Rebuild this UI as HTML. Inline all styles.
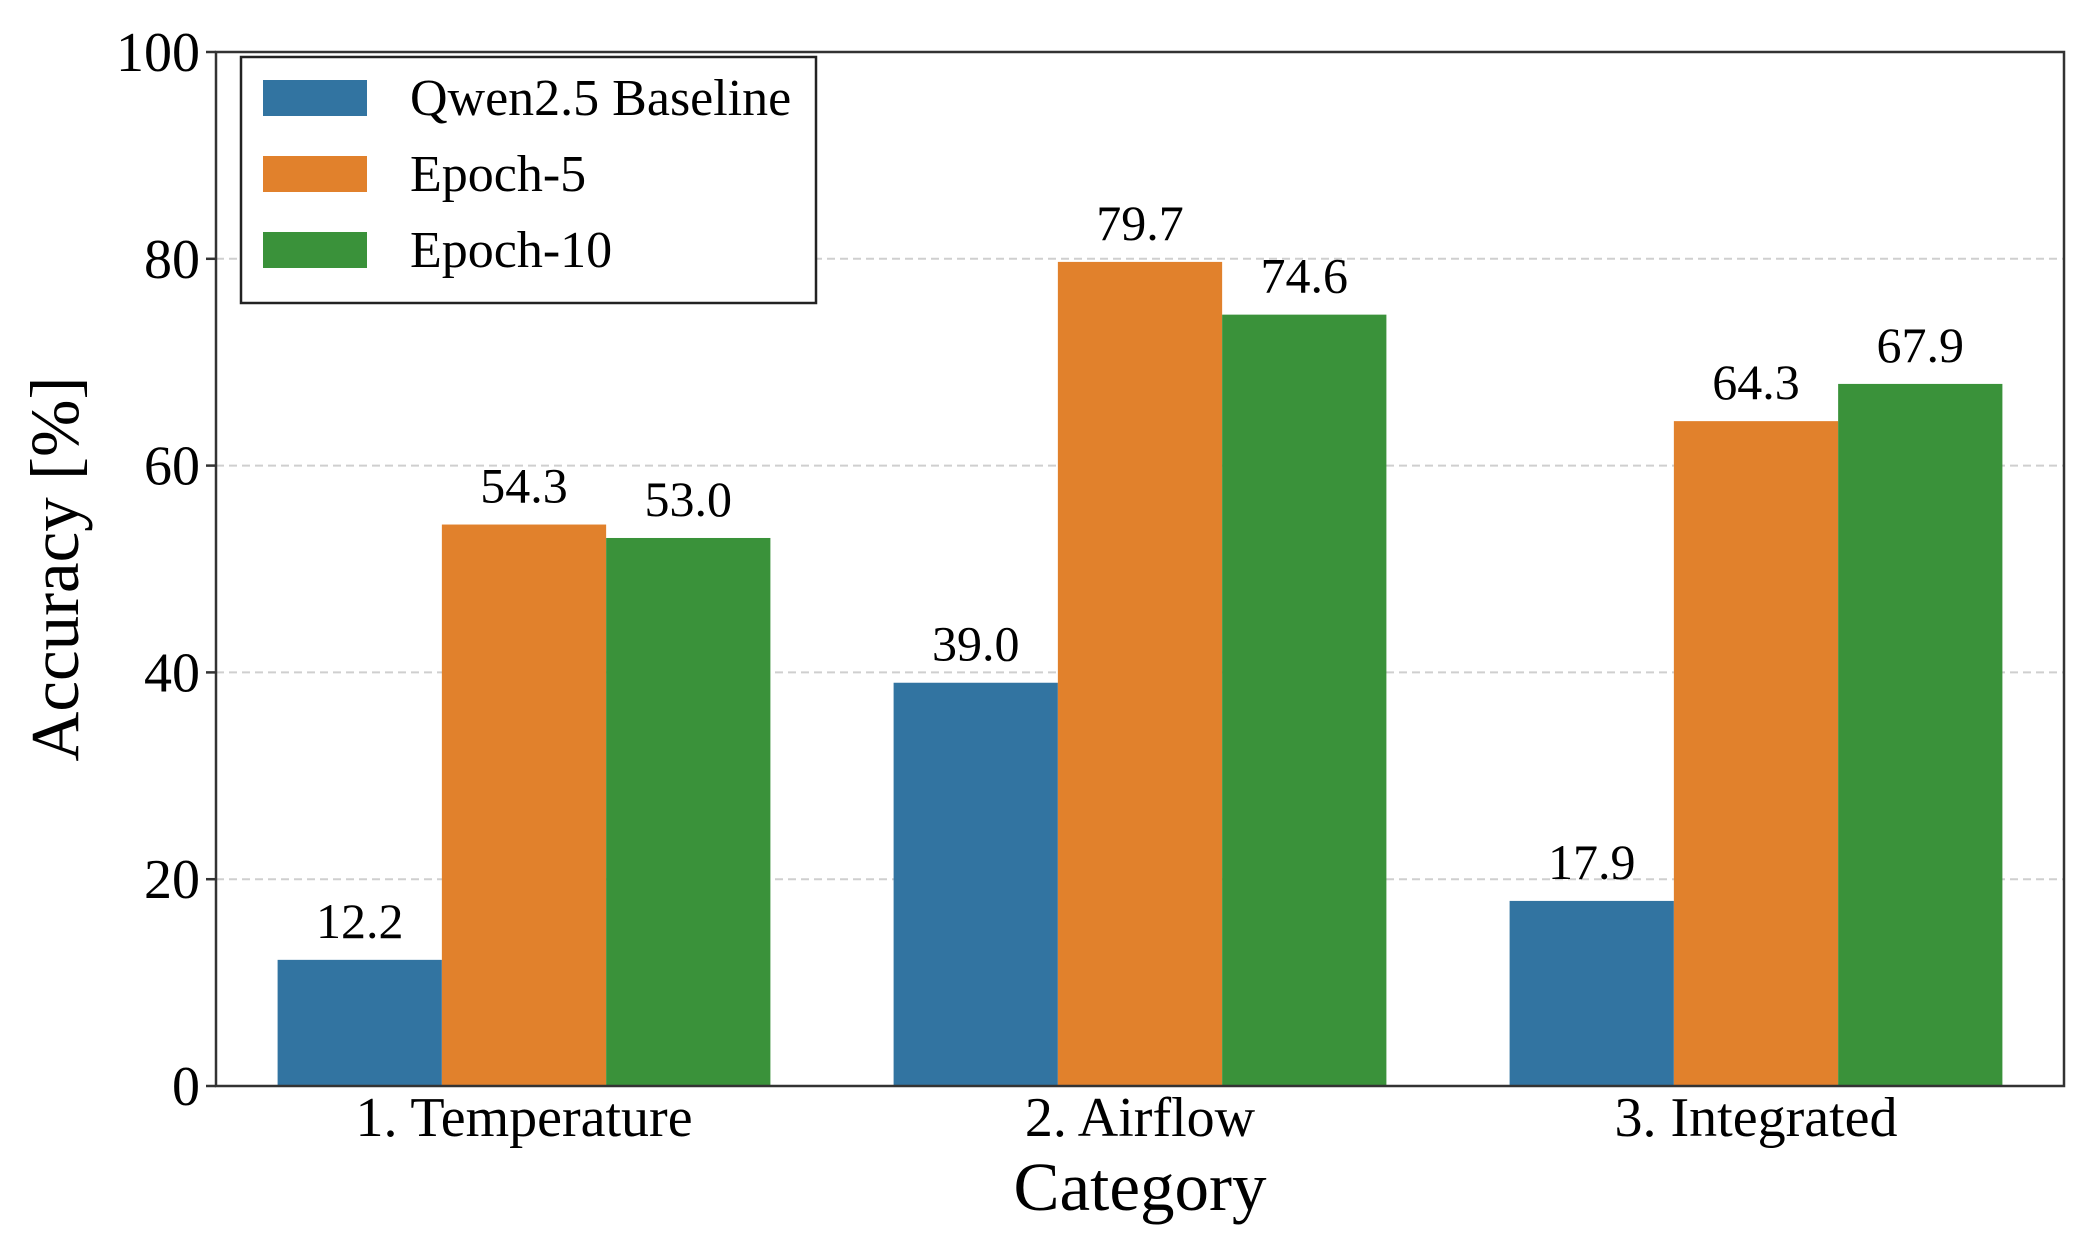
<!DOCTYPE html>
<html><head><meta charset="utf-8"><style>
html,body{margin:0;padding:0;background:#fff}
svg{display:block;font-family:"Liberation Serif","DejaVu Serif",serif}
</style></head><body>
<svg id="chart" width="2086" height="1253" viewBox="0 0 2086 1253" xmlns="http://www.w3.org/2000/svg">
<g id="grid"></g>
<g id="bars"></g>
<g id="labels"></g>
<rect x="216" y="52" width="1848" height="1034" fill="none" stroke="#333" stroke-width="2.5"/>
<g id="yticks"></g>
<g id="xticks"></g>
<text x="0" y="0" transform="translate(78,569) rotate(-90)" text-anchor="middle" font-size="69">Accuracy [%]</text>
<text x="1140" y="1210" text-anchor="middle" font-size="69">Category</text>
<g id="legend">
<rect x="241" y="57" width="575" height="246" fill="#fff" stroke="#222" stroke-width="2.5"/>
</g>
</svg>
<script>
const categories = ["1. Temperature", "2. Airflow", "3. Integrated"];
const seriesNames = ["Qwen2.5 Baseline", "Epoch-5", "Epoch-10"];
const baseline = [12.2, 39.0, 17.9];
const epoch5 = [54.3, 79.7, 64.3];
const epoch10 = [53.0, 74.6, 67.9];
const yTicks = [0, 20, 40, 60, 80, 100];
const colors = ["#3274a1", "#e1812c", "#3a923a"];
const NS = "http://www.w3.org/2000/svg";
const L = 216, R = 2064, T = 52, B = 1086;
function yS(v){ return B - (v/100)*(B-T); }
function xS(u){ return L + (u+0.5)/3*(R-L); }
function mk(tag, attrs, parent){ const e=document.createElementNS(NS,tag); for(const k in attrs) e.setAttribute(k,attrs[k]); parent.appendChild(e); return e; }
const grid=document.getElementById('grid'), bars=document.getElementById('bars'), labels=document.getElementById('labels');
const yt=document.getElementById('yticks'), xt=document.getElementById('xticks'), leg=document.getElementById('legend');
yTicks.forEach(v=>{
  const y=yS(v);
  if(v>0 && v<100){ const g=mk('line',{x1:L,x2:R,y1:y,y2:y,stroke:'#cfcfcf','stroke-width':2,'stroke-dasharray':'8,5'},grid);
    
     }
  const tk=mk('line',{x1:L-10,x2:L,y1:y,y2:y,stroke:'#333','stroke-width':2.5},yt);
  
  
  const t=mk('text',{x:L-16,y:y+19,'text-anchor':'end','font-size':56},yt);
  t.textContent=v;
  
  
});
const series=[baseline,epoch5,epoch10];
const bw=0.8/3;
categories.forEach((c,i)=>{
  const t=mk('text',{x:xS(i),y:B+50,'text-anchor':'middle','font-size':56},xt);
  t.textContent=c;
  
  
  series.forEach((s,j)=>{
    const u0=i-0.4+j*bw;
    const x0=xS(u0), x1=xS(u0+bw);
    const r=mk('rect',{x:x0,y:yS(s[i]),width:x1-x0,height:B-yS(s[i]),fill:colors[j]},bars);
    
    
    const lt=mk('text',{x:(x0+x1)/2,y:yS(s[i])-22,'text-anchor':'middle','font-size':50},labels);
    lt.textContent=s[i].toFixed(1);
    
    
  });
});
seriesNames.forEach((n,j)=>{
  const y=80+j*76;
  const p=mk('rect',{x:263,y:y,width:104,height:36,fill:colors[j]},leg);
  
  
  const t=mk('text',{x:410,y:y+35,'font-size':52},leg);
  t.textContent=n;
  
  
});
</script>
</body></html>
